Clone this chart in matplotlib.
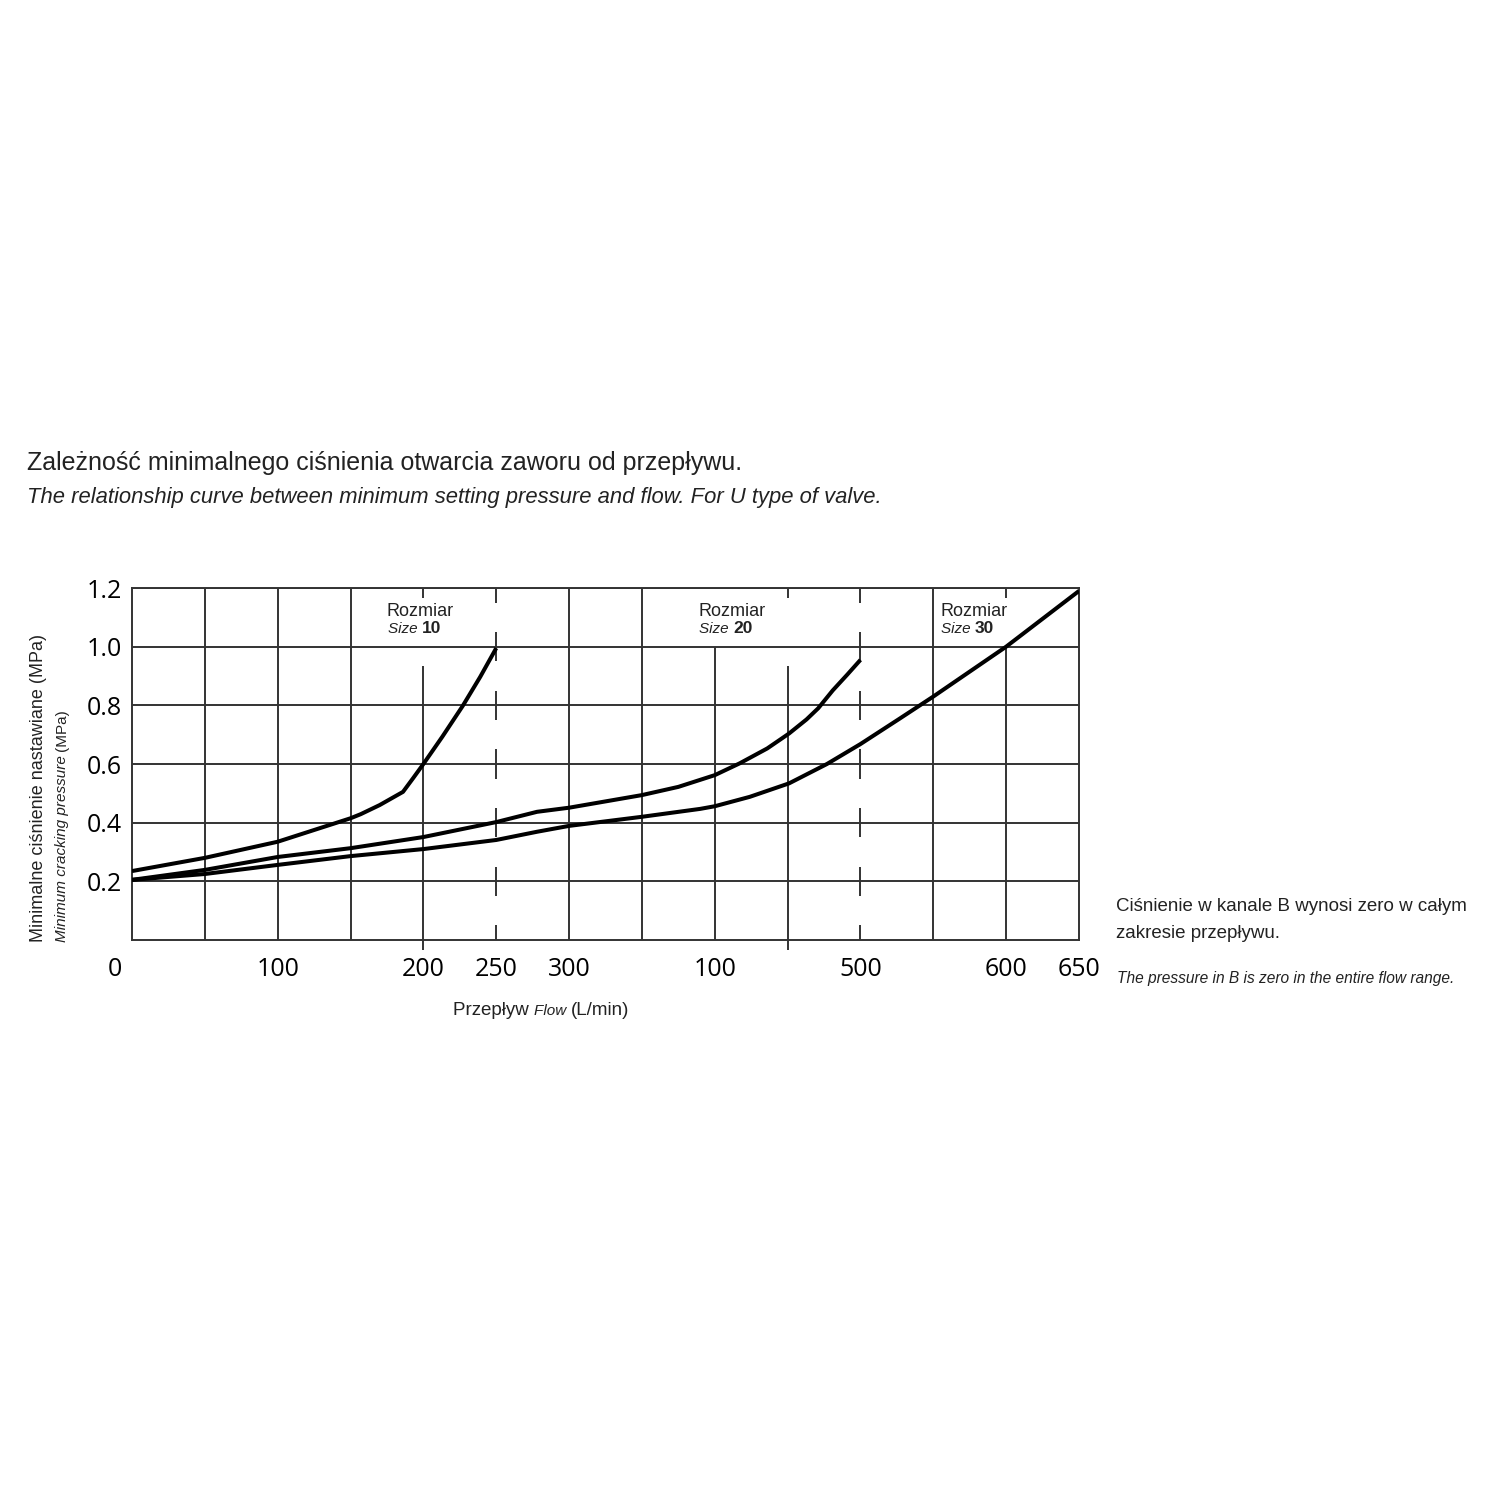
import numpy as np
import matplotlib.pyplot as plt
from matplotlib.transforms import ScaledTranslation

# --- data ---
size10_flow = [0, 50, 100, 150, 157, 170, 186, 193, 200, 213, 227, 239, 250]
size10_pres = [0.235, 0.28, 0.335, 0.415, 0.429, 0.46, 0.505, 0.552, 0.6, 0.693, 0.798, 0.897, 0.995]

size20_flow = [0, 50, 100, 150, 200, 250, 278, 300, 350, 375, 400, 417, 436, 451,
               463, 471, 481, 491, 500]
size20_pres = [0.205, 0.239, 0.283, 0.313, 0.351, 0.402, 0.437, 0.451, 0.494, 0.522,
               0.562, 0.602, 0.653, 0.704, 0.752, 0.79, 0.851, 0.905, 0.955]

size30_flow = [0, 50, 100, 150, 200, 250, 278, 300, 350, 390, 400, 424, 451, 477, 500,
               527, 550, 600, 650]
size30_pres = [0.205, 0.225, 0.256, 0.286, 0.31, 0.341, 0.369, 0.389, 0.42, 0.447, 0.456,
               0.488, 0.534, 0.6, 0.668, 0.755, 0.83, 1.0, 1.19]

xtick_pos = [0, 100, 200, 250, 300, 400, 500, 600, 650]
xtick_lab = ['0', '100', '200', '250', '300', '100', '500', '600', '650']
ytick_pos = [0.2, 0.4, 0.6, 0.8, 1.0, 1.2]
ytick_lab = ['0.2', '0.4', '0.6', '0.8', '1.0', '1.2']

GRID = '#333333'
GLW = 1.4
TXT = '#222222'
SANS = 'Liberation Sans'
NUM = 'Open Sans'

fig = plt.figure(figsize=(15, 15), dpi=100)
ax = fig.add_axes([132/1500, 1 - 940/1500, (1079-132)/1500, (940-588)/1500])
ax.set_xlim(0, 650)
ax.set_ylim(0, 1.2)

# horizontal grid
for y in ytick_pos:
    ax.hlines(y, 0, 650, color=GRID, lw=GLW, zorder=1)

# vertical grid (full, partial, dashed)
for x in [50, 100, 150, 300, 350, 550]:
    ax.vlines(x, 0, 1.2, color=GRID, lw=GLW, zorder=1)
for x in [400, 600]:
    ax.vlines(x, 0, 1.0, color=GRID, lw=GLW, zorder=1)
for x in [200, 450]:
    ax.vlines(x, -0.034, 0.935, color=GRID, lw=GLW, zorder=1, clip_on=False)
for x in [200, 450, 600]:
    ax.vlines(x, 1.165, 1.2, color=GRID, lw=GLW, zorder=1)
for x in [250, 500]:
    for y in [0] + ytick_pos:
        ax.vlines(x, max(y - 0.05, 0), min(y + 0.05, 1.2), color=GRID, lw=GLW, zorder=1)

for sp in ax.spines.values():
    sp.set_color(GRID)
    sp.set_linewidth(GLW)

# curves
for fx, py in [(size10_flow, size10_pres), (size20_flow, size20_pres), (size30_flow, size30_pres)]:
    ax.plot(fx, py, color='black', lw=2.9, solid_joinstyle='round', solid_capstyle='butt', zorder=3)

ax.set_xticks(xtick_pos)
ax.set_xticklabels(xtick_lab, fontfamily=NUM, fontsize=18)
ax.set_yticks(ytick_pos)
ax.set_yticklabels(ytick_lab, fontfamily=NUM, fontsize=18)
ax.tick_params(axis='x', length=0, pad=12)
ax.tick_params(axis='y', length=0, pad=7)
lab0 = ax.get_xticklabels()[0]
lab0.set_transform(lab0.get_transform() + ScaledTranslation(-0.17, 0, fig.dpi_scale_trans))

renderer = fig.canvas.get_renderer()


def text_row(x, y, pieces, rotation=0):
    # place several differently styled pieces one after another (pixel coords)
    pos = 0.0
    for s, kw in pieces:
        if rotation == 0:
            t = fig.text((x + pos) / 1500, 1 - y / 1500, s, ha='left', va='baseline', **kw)
            pos += t.get_window_extent(renderer).width
        else:
            t = fig.text(x / 1500, 1 - (y - pos) / 1500, s, ha='left', va='baseline',
                         rotation=90, rotation_mode='anchor', **kw)
            pos += t.get_window_extent(renderer).height


# titles
fig.text(27/1500, 1 - 470/1500, 'Zależność minimalnego ciśnienia otwarcia zaworu od przepływu.',
         fontfamily=SANS, fontsize=18, color=TXT, va='baseline')
fig.text(27/1500, 1 - 503/1500, 'The relationship curve between minimum setting pressure and flow. For U type of valve.',
         fontfamily=SANS, fontsize=15.8, style='italic', color=TXT, va='baseline')

# size labels
for x, num in [(387, '10'), (698, '20'), (940, '30')]:
    text_row(x, 616, [('Rozmiar', dict(fontfamily=SANS, fontsize=13, color=TXT))])
    text_row(x + 1, 633, [('Size ', dict(fontfamily=SANS, fontsize=11, style='italic', color=TXT)),
                          (num, dict(fontfamily=SANS, fontsize=12.5, weight='bold', color=TXT))])

# axis labels
text_row(453, 1015, [('Przepływ ', dict(fontfamily=SANS, fontsize=13.5, color=TXT)),
                     ('Flow ', dict(fontfamily=SANS, fontsize=11, style='italic', color=TXT)),
                     ('(L/min)', dict(fontfamily=SANS, fontsize=13.5, color=TXT))])

text_row(43, 942, [('Minimalne ciśnienie nastawiane (MPa)', dict(fontfamily=SANS, fontsize=13, color=TXT))],
         rotation=90)
text_row(66, 942, [('Minimum cracking pressure ', dict(fontfamily=SANS, fontsize=11, style='italic', color=TXT)),
                   ('(MPa)', dict(fontfamily=SANS, fontsize=11, color=TXT))], rotation=90)

# side note
fig.text(1116/1500, 1 - 911/1500, 'Ciśnienie w kanale B wynosi zero w całym',
         fontfamily=SANS, fontsize=13.5, color=TXT, va='baseline')
fig.text(1116/1500, 1 - 938/1500, 'zakresie przepływu.',
         fontfamily=SANS, fontsize=13.5, color=TXT, va='baseline')
fig.text(1117/1500, 1 - 983/1500, 'The pressure in B is zero in the entire flow range.',
         fontfamily=SANS, fontsize=11.2, style='italic', color=TXT, va='baseline')

fig.savefig('out.png', dpi=100, facecolor='white')
